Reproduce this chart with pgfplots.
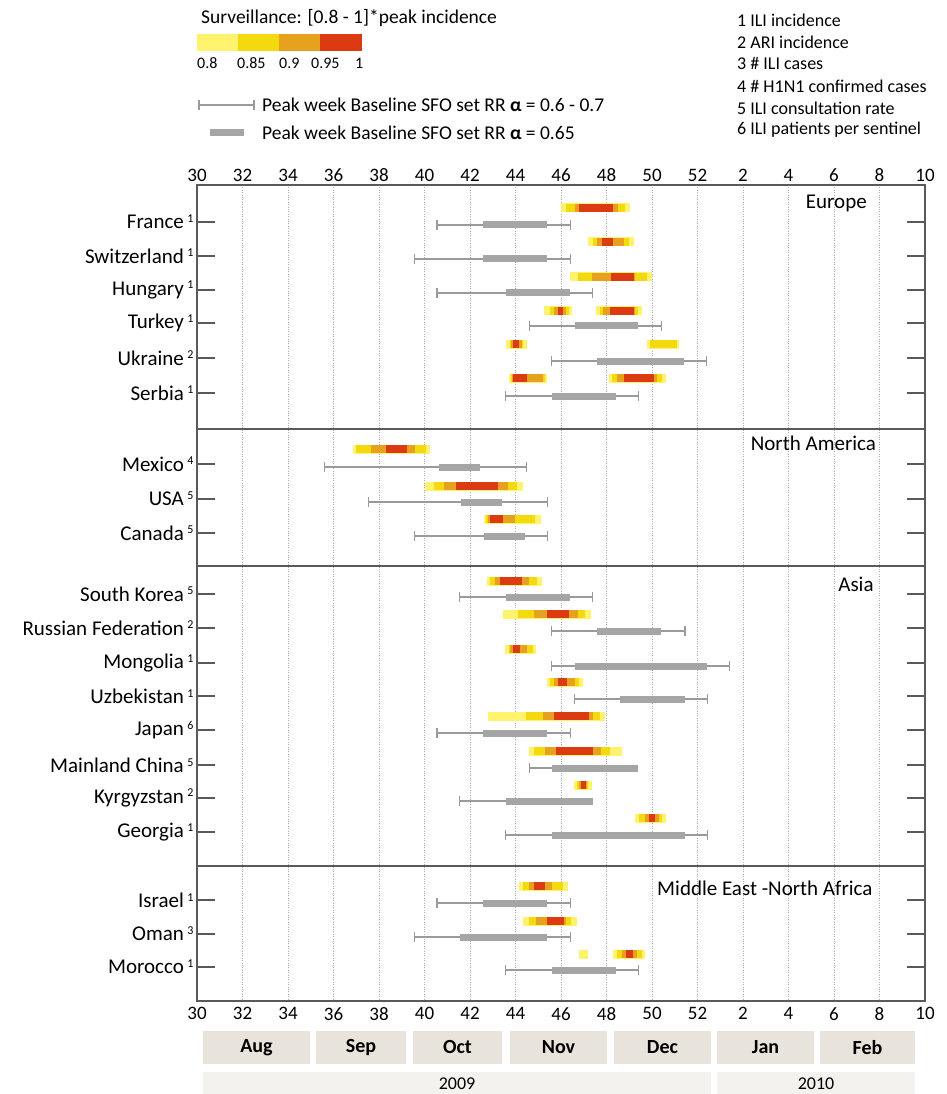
\documentclass[border=0pt]{standalone}
\usepackage{fontspec}
\setmainfont{Carlito}
\usepackage{pgfplots}
\pgfplotsset{compat=1.18}
\definecolor{cL}{HTML}{FFF36E}
\definecolor{cY}{HTML}{F5D90F}
\definecolor{cO}{HTML}{E6A11E}
\definecolor{cR}{HTML}{DC3A10}
\definecolor{gbar}{HTML}{A5A5A5}
\definecolor{gwh}{HTML}{9A9A9A}
\definecolor{framec}{HTML}{5A5A5A}
\definecolor{monthc}{HTML}{E8E3DB}
\definecolor{yearc}{HTML}{F4F2EE}
\newcommand{\srcsup}[1]{\,\raisebox{0.62ex}{\fontsize{12}{12}\selectfont #1}}
\begin{document}
\begin{tikzpicture}
\begin{axis}[at={(0,0)}, anchor=south west, scale only axis, width=728pt, height=816pt,
  xmin=30, xmax=62, ymin=185, ymax=1001, y dir=reverse, clip=false, unbounded coords=jump,
  xtick={30,32,...,62}, xticklabels={30,32,34,36,38,40,42,44,46,48,50,52,2,4,6,8,10},
  xticklabel style={font=\fontsize{19}{19}\selectfont, yshift=-3pt},
  xtick style={draw=none}, xmajorgrids, major grid style={dotted, gray!65, line width=0.55pt},
  ytick={222,256,290,323,358,393,464,499,533,594,628,663,696,730,765,798,832,900,934,967},
  yticklabels={{France\srcsup{1}},{Switzerland\srcsup{1}},{Hungary\srcsup{1}},{Turkey\srcsup{1}},{Ukraine\srcsup{2}},{Serbia\srcsup{1}},{Mexico\srcsup{4}},{USA\srcsup{5}},{Canada\srcsup{5}},{South Korea\srcsup{5}},{Russian Federation\srcsup{2}},{Mongolia\srcsup{1}},{Uzbekistan\srcsup{1}},{Japan\srcsup{6}},{Mainland China\srcsup{5}},{Kyrgyzstan\srcsup{2}},{Georgia\srcsup{1}},{Israel\srcsup{1}},{Oman\srcsup{3}},{Morocco\srcsup{1}}},
  yticklabel style={font=\fontsize{21}{21}\selectfont},
  ytick style={draw=framec, line width=1.3pt}, tick align=inside, major tick length=18pt,
  axis line style={draw=framec, line width=1.3pt}]
% surveillance: light yellow
\addplot[cL, line width=9pt, forget plot] coordinates {
(46.0,208) (49.05,208) (nan,nan)
(47.2,242) (49.2,242) (nan,nan)
(46.4,277) (50.0,277) (nan,nan)
(45.25,311) (46.5,311) (nan,nan) (47.55,311) (49.55,311) (nan,nan)
(43.6,344) (44.5,344) (nan,nan) (49.8,344) (51.2,344) (nan,nan)
(43.7,378) (45.4,378) (nan,nan) (48.1,378) (50.6,378) (nan,nan)
(36.85,449) (40.25,449) (nan,nan)
(40.0,486) (44.35,486) (nan,nan)
(42.6,519) (45.1,519) (nan,nan)
(42.75,581) (45.15,581) (nan,nan)
(43.45,614) (47.3,614) (nan,nan)
(43.55,649) (44.9,649) (nan,nan)
(45.4,682) (46.95,682) (nan,nan)
(42.8,716) (47.95,716) (nan,nan)
(44.6,751) (48.7,751) (nan,nan)
(46.55,785) (47.35,785) (nan,nan)
(49.25,818) (50.6,818) (nan,nan)
(44.15,886) (46.3,886) (nan,nan)
(44.35,921) (46.7,921) (nan,nan)
(46.8,954) (47.2,954) (nan,nan) (48.3,954) (49.7,954)
};
% yellow
\addplot[cY, line width=8pt, forget plot] coordinates {
(46.2,208) (48.8,208) (nan,nan)
(47.4,242) (49.0,242) (nan,nan)
(46.75,277) (49.8,277) (nan,nan)
(45.5,311) (46.35,311) (nan,nan) (47.7,311) (49.4,311) (nan,nan)
(43.75,344) (44.35,344) (nan,nan) (49.9,344) (51.1,344) (nan,nan)
(43.8,378) (45.3,378) (nan,nan) (48.25,378) (50.45,378) (nan,nan)
(37.0,449) (40.05,449) (nan,nan)
(40.4,486) (44.05,486) (nan,nan)
(42.7,519) (44.85,519) (nan,nan)
(42.9,581) (44.95,581) (nan,nan)
(44.1,614) (47.05,614) (nan,nan)
(43.7,649) (44.75,649) (nan,nan)
(45.5,682) (46.8,682) (nan,nan)
(44.45,716) (47.7,716) (nan,nan)
(44.8,751) (48.15,751) (nan,nan)
(46.7,785) (47.2,785) (nan,nan)
(49.45,818) (50.45,818) (nan,nan)
(44.35,886) (46.1,886) (nan,nan)
(44.6,921) (46.45,921) (nan,nan)
(48.45,954) (49.55,954)
};
% orange
\addplot[cO, line width=8pt, forget plot] coordinates {
(46.6,208) (48.5,208) (nan,nan)
(47.6,242) (48.75,242) (nan,nan)
(47.35,277) (49.25,277) (nan,nan)
(45.7,311) (46.2,311) (nan,nan) (47.85,311) (49.25,311) (nan,nan)
(43.8,344) (44.3,344) (nan,nan)
(43.85,378) (45.2,378) (nan,nan) (48.45,378) (50.2,378) (nan,nan)
(37.63,449) (39.6,449) (nan,nan)
(40.86,486) (43.67,486) (nan,nan)
(42.8,519) (43.97,519) (nan,nan)
(43.1,581) (44.6,581) (nan,nan)
(44.8,614) (46.75,614) (nan,nan)
(43.78,649) (44.52,649) (nan,nan)
(45.7,682) (46.6,682) (nan,nan)
(45.2,716) (47.4,716) (nan,nan)
(45.3,751) (47.75,751) (nan,nan)
(46.8,785) (47.15,785) (nan,nan)
(49.7,818) (50.3,818) (nan,nan)
(44.6,886) (45.6,886) (nan,nan)
(44.9,921) (46.2,921) (nan,nan)
(48.67,954) (49.33,954)
};
% red
\addplot[cR, line width=7.5pt, forget plot] coordinates {
(46.8,208) (48.3,208) (nan,nan)
(47.8,242) (48.3,242) (nan,nan)
(48.2,277) (49.2,277) (nan,nan)
(45.85,311) (46.1,311) (nan,nan) (48.15,311) (49.2,311) (nan,nan)
(43.9,344) (44.15,344) (nan,nan)
(43.9,378) (44.5,378) (nan,nan) (48.75,378) (50.1,378) (nan,nan)
(38.3,449) (39.25,449) (nan,nan)
(41.4,486) (43.25,486) (nan,nan)
(42.9,519) (43.45,519) (nan,nan)
(43.3,581) (44.3,581) (nan,nan)
(45.4,614) (46.35,614) (nan,nan)
(43.87,649) (44.2,649) (nan,nan)
(45.85,682) (46.25,682) (nan,nan)
(45.7,716) (47.25,716) (nan,nan)
(45.8,751) (47.4,751) (nan,nan)
(46.9,785) (47.08,785) (nan,nan)
(49.85,818) (50.15,818) (nan,nan)
(44.8,886) (45.3,886) (nan,nan)
(45.4,921) (46.15,921) (nan,nan)
(48.85,954) (49.15,954)
};
% baseline whiskers (alpha 0.6-0.7)
\addplot[gwh, line width=1.1pt, forget plot] coordinates {
(40.55,225) (46.4,225) (nan,nan)
(39.55,259) (46.4,259) (nan,nan)
(40.55,293) (47.4,293) (nan,nan)
(44.6,326) (50.4,326) (nan,nan)
(45.6,361) (52.4,361) (nan,nan)
(43.55,396) (49.4,396) (nan,nan)
(35.6,467) (44.5,467) (nan,nan)
(37.55,502) (45.4,502) (nan,nan)
(39.55,536) (45.4,536) (nan,nan)
(41.55,597) (47.4,597) (nan,nan)
(45.6,631) (51.45,631) (nan,nan)
(45.6,666) (53.4,666) (nan,nan)
(46.6,699) (52.45,699) (nan,nan)
(40.55,733) (46.4,733) (nan,nan)
(44.6,768) (49.4,768) (nan,nan)
(41.55,801) (47.4,801) (nan,nan)
(43.55,835) (52.45,835) (nan,nan)
(40.55,903) (46.4,903) (nan,nan)
(39.55,937) (46.4,937) (nan,nan)
(43.55,970) (49.4,970)
};
\addplot[only marks, mark=|, mark size=5pt, mark options={gwh, line width=1.1pt}, forget plot] coordinates {
(40.55,225) (46.4,225) (39.55,259) (46.4,259) (40.55,293) (47.4,293)
(44.6,326) (50.4,326) (45.6,361) (52.4,361) (43.55,396) (49.4,396)
(35.6,467) (44.5,467) (37.55,502) (45.4,502) (39.55,536) (45.4,536)
(41.55,597) (47.4,597) (45.6,631) (51.45,631) (45.6,666) (53.4,666)
(46.6,699) (52.45,699) (40.55,733) (46.4,733) (44.6,768) (41.55,801)
(43.55,835) (52.45,835) (40.55,903) (46.4,903) (39.55,937) (46.4,937)
(43.55,970) (49.4,970)
};
% baseline bars (alpha 0.65)
\addplot[gbar, line width=7pt, forget plot] coordinates {
(42.55,225) (45.4,225) (nan,nan)
(42.55,259) (45.4,259) (nan,nan)
(43.6,293) (46.4,293) (nan,nan)
(46.6,326) (49.4,326) (nan,nan)
(47.6,361) (51.4,361) (nan,nan)
(45.6,396) (48.4,396) (nan,nan)
(40.65,467) (42.45,467) (nan,nan)
(41.6,502) (43.4,502) (nan,nan)
(42.6,536) (44.4,536) (nan,nan)
(43.6,597) (46.4,597) (nan,nan)
(47.6,631) (50.4,631) (nan,nan)
(46.6,666) (52.4,666) (nan,nan)
(48.6,699) (51.45,699) (nan,nan)
(42.55,733) (45.4,733) (nan,nan)
(45.6,768) (49.4,768) (nan,nan)
(43.6,801) (47.4,801) (nan,nan)
(45.6,835) (51.45,835) (nan,nan)
(42.55,903) (45.4,903) (nan,nan)
(41.55,937) (45.4,937) (nan,nan)
(45.6,970) (48.4,970)
};
% section separators and labels
\draw[framec, line width=1.3pt] (axis cs:30,429) -- (axis cs:62,429);
\draw[framec, line width=1.3pt] (axis cs:30,566) -- (axis cs:62,566);
\draw[framec, line width=1.3pt] (axis cs:30,866) -- (axis cs:62,866);
\node[anchor=east, inner sep=0pt, font=\fontsize{21}{21}\selectfont] at (axis cs:59.45,203) {Europe};
\node[anchor=east, inner sep=0pt, font=\fontsize{21}{21}\selectfont] at (axis cs:59.85,443) {North America};
\node[anchor=east, inner sep=0pt, font=\fontsize{21}{21}\selectfont] at (axis cs:59.75,584) {Asia};
\node[anchor=east, inner sep=0pt, font=\fontsize{21}{21}\selectfont] at (axis cs:59.7,888) {Middle East -North Africa};
\end{axis}
% top tick labels
\begin{axis}[at={(0,0)}, anchor=south west, scale only axis, width=728pt, height=816pt,
  xmin=30, xmax=62, ymin=185, ymax=1001, y dir=reverse,
  xtick={30,32,...,62}, xticklabels={30,32,34,36,38,40,42,44,46,48,50,52,2,4,6,8,10},
  xticklabel pos=upper, xticklabel style={font=\fontsize{19}{19}\selectfont},
  xtick style={draw=none}, ytick=\empty, axis line style={draw=none}]
\end{axis}
\begin{scope}[shift={(-197pt,1001pt)}, x=1pt, y=-1pt]
\path[use as bounding box] (0,0) rectangle (946,1094);
\node[anchor=west, inner sep=0pt, font=\fontsize{19.5}{19.5}\selectfont] at (201,18) {Surveillance: [0.8 - 1]*peak incidence};
\fill[cL] (197,34) rectangle (238,51);
\fill[cY] (238,34) rectangle (279,51);
\fill[cO] (279,34) rectangle (320,51);
\fill[cR] (320,34) rectangle (362,51);
\begin{scope}[every node/.style={anchor=west, inner sep=0pt, font=\fontsize{16}{16}\selectfont}]
\node at (197,63) {0.8};
\node at (237,63) {0.85};
\node at (279,63) {0.9};
\node at (311,63) {0.95};
\node at (355,63) {1};
\end{scope}
\draw[gwh, line width=1.1pt] (199,105) -- (254,105);
\draw[gwh, line width=1.1pt] (199,100) -- (199,110);
\draw[gwh, line width=1.1pt] (254,100) -- (254,110);
\node[anchor=west, inner sep=0pt, font=\fontsize{19.5}{19.5}\selectfont] at (262,105) {Peak week Baseline SFO set RR \textbf{α} = 0.6 - 0.7};
\draw[gbar, line width=7pt] (210,133) -- (244,133);
\node[anchor=west, inner sep=0pt, font=\fontsize{19.5}{19.5}\selectfont] at (262,133) {Peak week Baseline SFO set RR \textbf{α} = 0.65};
\begin{scope}[every node/.style={anchor=west, inner sep=0pt, font=\fontsize{18}{18}\selectfont}]
\node at (737,20) {1 ILI incidence};
\node at (737,42) {2 ARI incidence};
\node at (737,64) {3 \# ILI cases};
\node at (737,86) {4 \# H1N1 confirmed cases};
\node at (737,108) {5 ILI consultation rate};
\node at (737,130) {6 ILI patients per sentinel};
\end{scope}
% month and year boxes
\begin{scope}[every node/.style={font=\fontsize{20}{20}\selectfont\bfseries}]
\fill[monthc] (203,1031) rectangle (310,1064); \node at (256.5,1047.5) {Aug};
\fill[monthc] (316,1031) rectangle (406,1064); \node at (361,1047.5) {Sep};
\fill[monthc] (413,1031) rectangle (502,1064); \node at (457.5,1047.5) {Oct};
\fill[monthc] (510,1031) rectangle (607,1064); \node at (558.5,1047.5) {Nov};
\fill[monthc] (614,1031) rectangle (711,1064); \node at (662.5,1047.5) {Dec};
\fill[monthc] (717,1031) rectangle (814,1064); \node at (765.5,1047.5) {Jan};
\fill[monthc] (820,1031) rectangle (915,1064); \node at (867.5,1047.5) {Feb};
\end{scope}
\fill[yearc] (203,1072) rectangle (711,1094);
\fill[yearc] (717,1072) rectangle (915,1094);
\node[font=\fontsize{18}{18}\selectfont] at (457,1084) {2009};
\node[font=\fontsize{18}{18}\selectfont] at (816,1084) {2010};
\end{scope}
\end{tikzpicture}
\end{document}
